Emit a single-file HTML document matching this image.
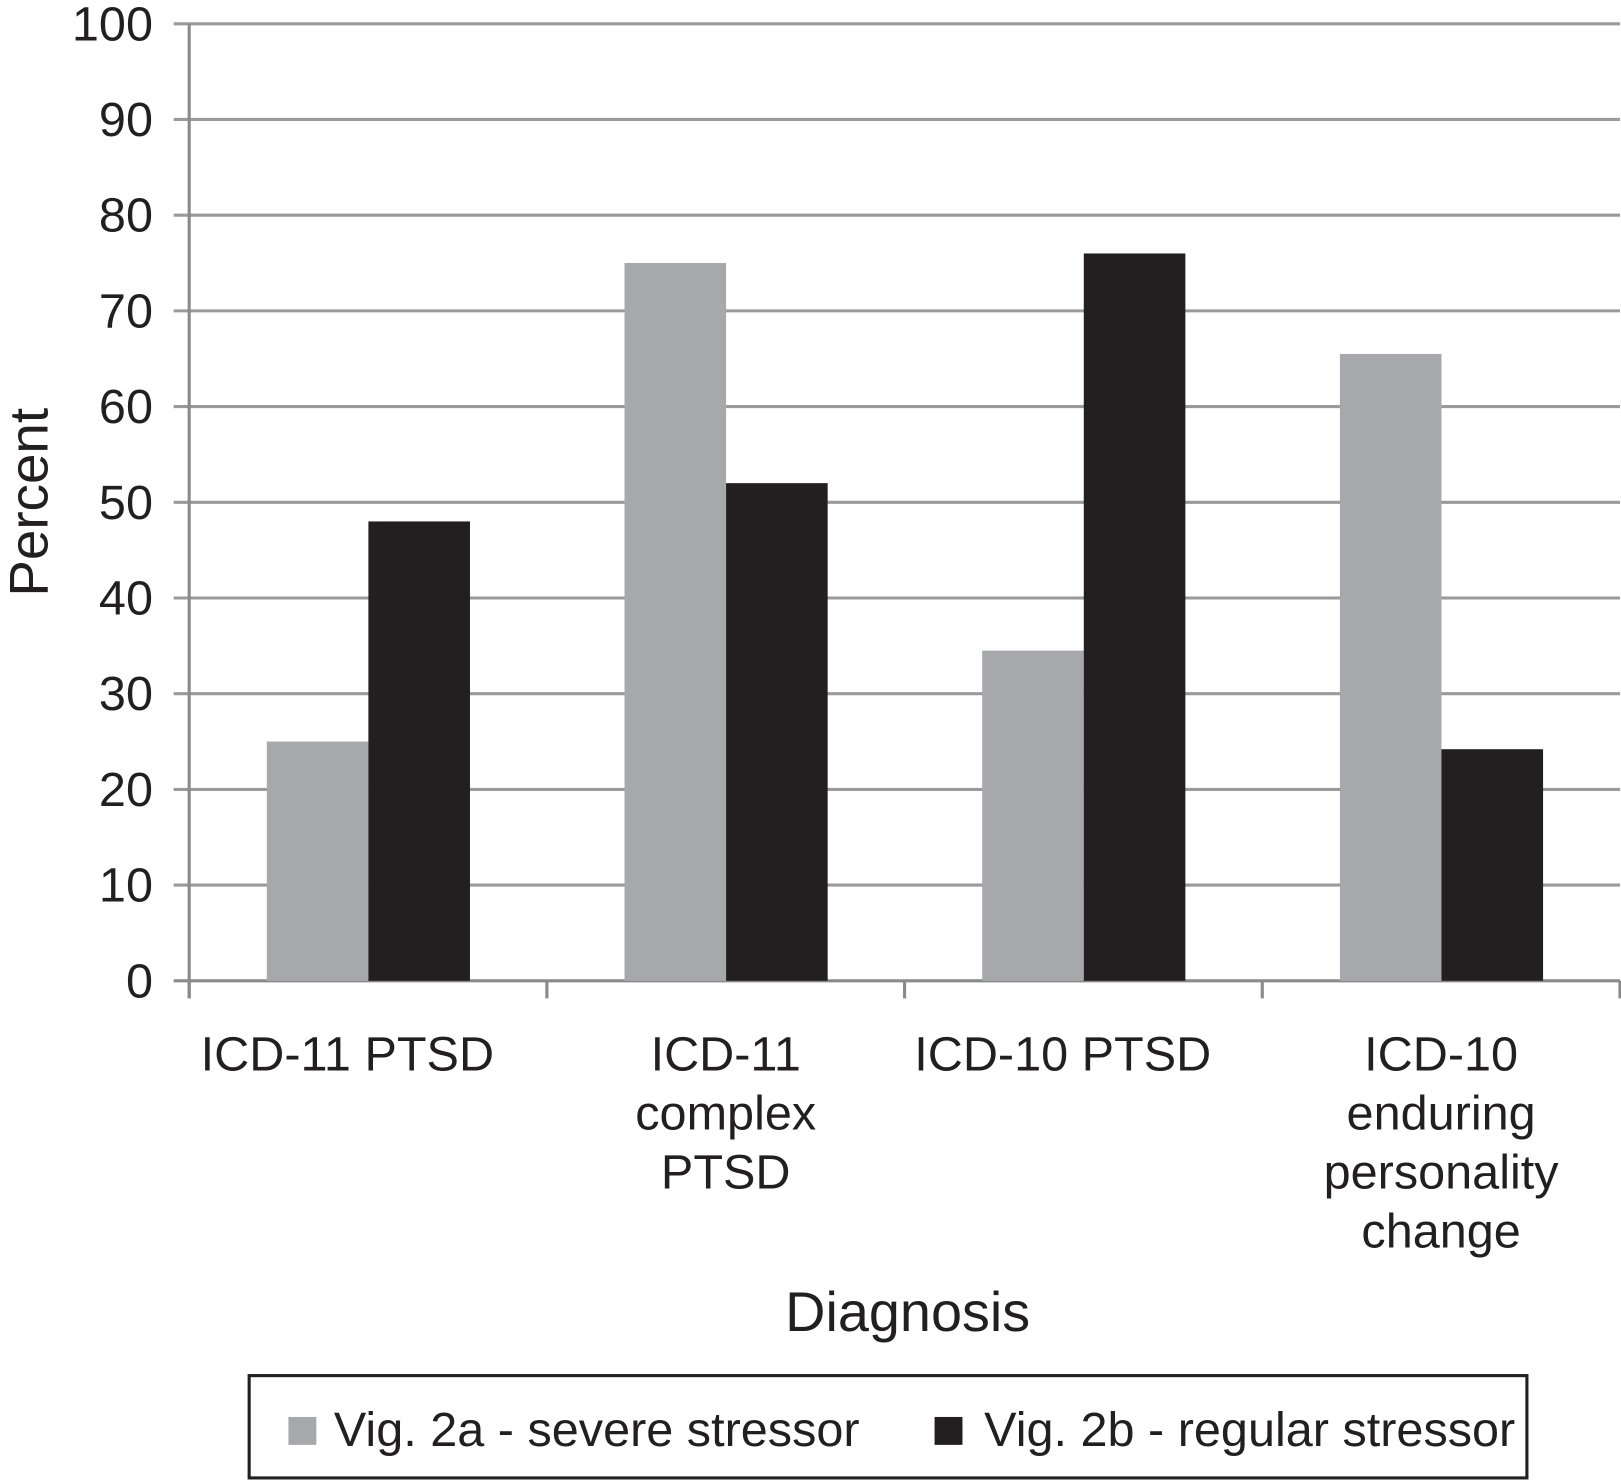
<!DOCTYPE html>
<html><head><meta charset="utf-8"><style>
html,body{margin:0;padding:0;background:#fff;}
svg{display:block;font-family:"Liberation Sans",Arial,sans-serif;}
</style></head><body>
<svg id="chart" width="1621" height="1480" viewBox="0 0 1568 1432" preserveAspectRatio="none">
<g id="grid"></g>
<g id="bars"></g>
<g id="axes"></g>
<text transform="translate(46,486) rotate(-90)" text-anchor="middle" font-size="53" fill="#231f20">Percent</text>
<text x="878" y="1288" text-anchor="middle" font-size="54" fill="#231f20">Diagnosis</text>
<g>
<rect x="241" y="1331" width="1236" height="99" fill="none" stroke="#231f20" stroke-width="3"/>
<rect x="279" y="1371" width="27" height="27" fill="#a7a8ab"/>
<text x="323" y="1399" font-size="47" fill="#231f20">Vig. 2a - severe stressor</text>
<rect x="904" y="1371" width="27" height="27" fill="#231f20"/>
<text x="952" y="1399" font-size="47" fill="#231f20">Vig. 2b - regular stressor</text>
</g>
</svg>
<script>
const categories = [["ICD-11 PTSD"],["ICD-11","complex","PTSD"],["ICD-10 PTSD"],["ICD-10","enduring","personality","change"]];
const severeValues = [25, 75, 34.5, 65.5];
const regularValues = [48, 52, 76, 24.2];
const yTicks = [0,10,20,30,40,50,60,70,80,90,100];

const NS="http://www.w3.org/2000/svg";
const x0=183, x1=1567, yTop=23, yBot=949;
const catW=(x1-x0)/categories.length;
const yScale=v=>yBot-(v/100)*(yBot-yTop);
const xCat=i=>x0+i*catW;
function mk(tag,attrs,parent){const e=document.createElementNS(NS,tag);for(const k in attrs)e.setAttribute(k,attrs[k]);parent.appendChild(e);return e;}
const grid=document.getElementById('grid'),bars=document.getElementById('bars'),axes=document.getElementById('axes');
yTicks.forEach(t=>{
  const y=yScale(t);
  const l=mk('line',{x1:x0-15,x2:x1,y1:y,y2:y,stroke:t===0?'#8a8a8a':'#9a9a9a','stroke-width':3},grid);
  
  
  const tx=mk('text',{x:148,y:y+16,'text-anchor':'end','font-size':47,fill:'#231f20'},axes);
  tx.textContent=t;
  
  
});
const bw=catW*0.284, off=catW*0.217;
categories.forEach((c,i)=>{
  const bx=xCat(i)+off;
  const g=mk('rect',{x:bx,y:yScale(severeValues[i]),width:bw,height:yBot-yScale(severeValues[i]),fill:'#a7a8ab'},bars);
  
  
  const b=mk('rect',{x:bx+bw,y:yScale(regularValues[i]),width:bw,height:yBot-yScale(regularValues[i]),fill:'#231f20'},bars);
  
  
  const cx=xCat(i)+catW/2+(c.length===1?-20:0);
  const t=mk('text',{x:cx,'text-anchor':'middle','font-size':47,fill:'#231f20'},axes);
  
  
  c.forEach((line,j)=>{const s=mk('tspan',{x:cx,y:1036+j*57},t);s.textContent=line;});
});
for(let i=0;i<=categories.length;i++){
  const tk=mk('line',{x1:xCat(i),x2:xCat(i),y1:yBot,y2:yBot+17,stroke:'#8a8a8a','stroke-width':3},axes);
  
  
}
const ya=mk('line',{x1:x0,x2:x0,y1:yTop,y2:yBot+17,stroke:'#8a8a8a','stroke-width':3},axes);


</script>
</body></html>
